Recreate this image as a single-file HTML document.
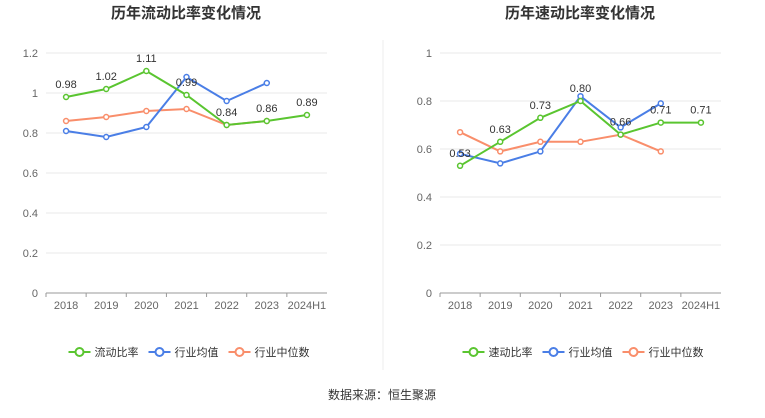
<!DOCTYPE html>
<html><head><meta charset="utf-8"><style>
body{margin:0;background:#fff;font-family:"Liberation Sans","Noto Sans CJK SC",sans-serif}
svg text{font-family:"Liberation Sans","Noto Sans CJK SC",sans-serif}
</style></head><body>
<svg id="s" width="765" height="413">
<text x="186" y="18" text-anchor="middle" font-size="15" font-weight="bold" fill="#333">历年流动比率变化情况</text>
<text x="580" y="18" text-anchor="middle" font-size="15" font-weight="bold" fill="#333">历年速动比率变化情况</text>
<line x1="383" y1="40" x2="383" y2="370" stroke="#eee"/>
<text x="382" y="399" text-anchor="middle" font-size="12" fill="#333">数据来源：恒生聚源</text>
</svg>
<script>
const categories=["2018","2019","2020","2021","2022","2023","2024H1"];
const leftMain=[0.98,1.02,1.11,0.99,0.84,0.86,0.89];
const leftAvg=[0.81,0.78,0.83,1.08,0.96,1.05];
const leftMed=[0.86,0.88,0.91,0.92,0.84,0.86];
const leftTicks=["0","0.2","0.4","0.6","0.8","1","1.2"];
const rightMain=[0.53,0.63,0.73,0.80,0.66,0.71,0.71];
const rightAvg=[0.58,0.54,0.59,0.82,0.69,0.79];
const rightMed=[0.67,0.59,0.63,0.63,0.66,0.59];
const rightTicks=["0","0.2","0.4","0.6","0.8","1"];
const NS="http://www.w3.org/2000/svg",svg=document.getElementById('s');
function mk(t,a,txt){const e=document.createElementNS(NS,t);for(const k in a)e.setAttribute(k,a[k]);if(txt!=null)e.textContent=txt;svg.appendChild(e);return e;}
function chart(p,x0,x1,ymax,ticks,main,avg,med,mainName){
 const top=53,bot=293;
 const xs=i=>x0+(x1-x0)*(i+0.5)/categories.length;
 const ys=v=>bot-(bot-top)*v/ymax;
 ticks.forEach(t=>{const y=ys(parseFloat(t));
  const g=mk('line',{x1:x0,x2:x1,y1:y,y2:y,stroke:t==="0"?"#999":"#e8e8e8"});
  
  const l=mk('text',{x:x0-8,y:y+4,'text-anchor':'end','font-size':11,fill:'#666'},t);
  });
 categories.forEach((c,i)=>{const l=mk('text',{x:xs(i),y:bot+16,'text-anchor':'middle','font-size':11,fill:'#666'},c);
  
  const tk=mk('line',{x1:xs(i)-(x1-x0)/categories.length/2,x2:xs(i)-(x1-x0)/categories.length/2,y1:bot,y2:bot+4,stroke:'#999'});
  });
 const series=[[med,'#f98e6b','median'],[avg,'#4a7ee6','average'],[main,'#5ac530','main']];
 series.forEach(([d,c,n])=>{
  const pl=mk('polyline',{points:d.map((v,i)=>xs(i)+','+ys(v)).join(' '),fill:'none',stroke:c,'stroke-width':2});
  
  d.forEach((v,i)=>{const ci=mk('circle',{cx:xs(i),cy:ys(v),r:2.5,fill:'#fff',stroke:c,'stroke-width':1.5});
   });});
 main.forEach((v,i)=>{const l=mk('text',{x:xs(i),y:ys(v)-9,'text-anchor':'middle','font-size':11,fill:'#333'},v.toFixed(2));
  });
 const lg=[[mainName,'#5ac530'],['行业均值','#4a7ee6'],['行业中位数','#f98e6b']];
 let lx=(x0+x1)/2-118;const widths=[80,80,90];
 lg.forEach(([n,c],k)=>{const ln=mk('line',{x1:lx,x2:lx+22,y1:352,y2:352,stroke:c,'stroke-width':2});
  
  const ci=mk('circle',{cx:lx+11,cy:352,r:4,fill:'#fff',stroke:c,'stroke-width':2});
  
  const t=mk('text',{x:lx+26,y:356,'font-size':11,fill:'#333'},n);
  
  lx+=widths[k];});
}
chart('left',46,327,1.2,leftTicks,leftMain,leftAvg,leftMed,'流动比率');
chart('right',440,721,1,rightTicks,rightMain,rightAvg,rightMed,'速动比率');
</script></body></html>
